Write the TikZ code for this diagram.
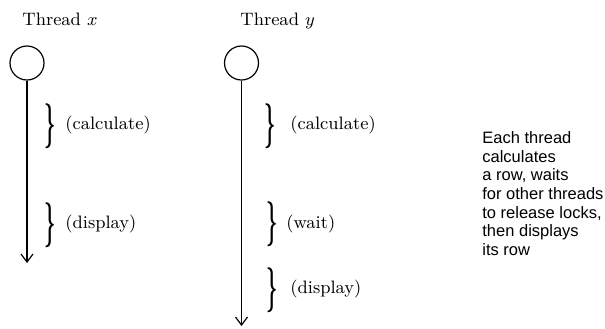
\documentclass[tikz,border=0pt]{standalone}
\usepackage{fontspec}
\newfontfamily\notefont{Liberation Sans}
\usetikzlibrary{arrows.meta}
\newcommand{\bigbrc}{\scalebox{1.1}[2.5]{\fontsize{9}{11}\selectfont\bfseries\}}}
\tikzset{
	thread/.style={draw, circle, minimum size=17pt, inner sep=0pt, line width=0.6pt},
	life/.style={line width=0.6pt, -{Straight Barb[length=4pt,width=6pt]}},
	brc/.style={inner sep=0pt},
	lbl/.style={font=\fontsize{9}{11}\selectfont, inner sep=0pt, anchor=west},
	ttl/.style={font=\fontsize{9}{11}\selectfont, inner sep=0pt, anchor=base west},
}

\begin{document}
\begin{tikzpicture}[x=0.5pt,y=-0.5pt]
			%%%%% START %%%%%
			\useasboundingbox (0,0) rectangle (605,328);
			
			% thread x
			\node[ttl] (tx) at (22,25) {Thread $x$};
			\node[thread] (cx) at (27,63) {};
			\coordinate (ex) at (27,263);
			\draw[life] (cx.south) -- (ex);
			
			\node[brc] (bxc) at (50,126) {\bigbrc};
			\node[lbl] (lxc) at (65,125) {(calculate)};
			\node[brc] (bxd) at (50,225) {\bigbrc};
			\node[lbl] (lxd) at (65,224) {(display)};
			
			% thread y
			\node[ttl] (ty) at (240,25) {Thread $y$};
			\node[thread] (cy) at (241.5,63) {};
			\coordinate (ey) at (241.5,326);
			\draw[life] (cy.south) -- (ey);
			
			\node[brc] (byc) at (270.5,126) {\bigbrc};
			\node[lbl] (lyc) at (290,125) {(calculate)};
			\node[brc] (byw) at (272,224) {\bigbrc};
			\node[lbl] (lyw) at (286,224) {(wait)};
			\node[brc] (byd) at (272,290) {\bigbrc};
			\node[lbl] (lyd) at (290,289) {(display)};
			
			% note
			\node[inner sep=0pt, anchor=north west, align=left,
				font=\notefont\fontsize{8.25}{9.35}\selectfont] (note) at (482,131)
				{Each thread\\calculates\\a row, waits\\for other threads\\to release locks,\\then displays\\its row};
			%%%%% END %%%%%
\end{tikzpicture}
\end{document}
